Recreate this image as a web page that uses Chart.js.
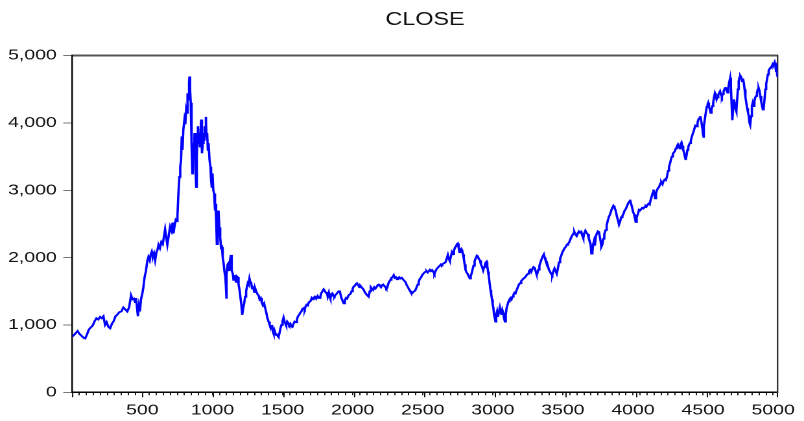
<!DOCTYPE html>
<html>
<head>
<meta charset="utf-8">
<title>CLOSE</title>
<script src="https://cdn.jsdelivr.net/npm/chart.js@4"></script>
<style>
  html, body { margin: 0; padding: 0; background: #fff; }
</style>
</head>
<body>
<!-- drawn narrow, shown wide: the graph is stretched like the exported original -->
<canvas id="chart" width="620" height="421" style="display:block;width:804px;height:421px"></canvas>
<script>
// observation number and closing value, read along the series
const obs = [
  1, 12, 25, 38, 50, 65, 80, 92, 105, 118,
  130, 145, 160, 172, 185, 198, 210, 222, 234, 245,
  258, 270, 283, 296, 308, 320, 335, 350, 364, 378,
  392, 405, 419, 430, 440, 448, 455, 462, 468, 475,
  482, 490, 500, 507, 515, 525, 535, 543, 552, 560,
  567, 575, 583, 591, 600, 608, 615, 625, 635, 645,
  652, 662, 670, 678, 688, 698, 708, 716, 722, 730,
  738, 746, 750, 757, 764, 770, 776, 781, 786, 792,
  800, 806, 812, 818, 822, 828, 833, 836, 840, 845,
  849, 853, 856, 860, 864, 868, 872, 877, 881, 884,
  888, 893, 896, 900, 905, 910, 915, 919, 923, 927,
  931, 936, 940, 944, 948, 953, 957, 962, 967, 972,
  979, 985, 990, 995, 1000, 1006, 1012, 1018, 1022, 1026,
  1031, 1037, 1043, 1049, 1055, 1061, 1067, 1073, 1079, 1085,
  1091, 1095, 1098, 1102, 1108, 1115, 1120, 1125, 1131, 1135,
  1139, 1145, 1150, 1156, 1162, 1168, 1174, 1179, 1186, 1193,
  1200, 1206, 1212, 1219, 1226, 1233, 1240, 1246, 1252, 1258,
  1264, 1270, 1276, 1282, 1290, 1298, 1305, 1312, 1320, 1329,
  1336, 1344, 1352, 1360, 1368, 1376, 1384, 1392, 1400, 1408,
  1414, 1419, 1425, 1431, 1436, 1442, 1448, 1455, 1462, 1467,
  1471, 1478, 1485, 1492, 1500, 1507, 1514, 1520, 1526, 1533,
  1540, 1547, 1555, 1562, 1570, 1578, 1586, 1594, 1602, 1610,
  1618, 1626, 1634, 1642, 1650, 1658, 1665, 1672, 1680, 1688,
  1698, 1708, 1715, 1721, 1730, 1740, 1750, 1760, 1769, 1776,
  1784, 1793, 1800, 1808, 1815, 1822, 1830, 1836, 1841, 1848,
  1855, 1862, 1870, 1878, 1885, 1892, 1900, 1907, 1914, 1920,
  1928, 1936, 1944, 1952, 1960, 1968, 1976, 1984, 1992, 2000,
  2007, 2015, 2023, 2031, 2040, 2048, 2056, 2064, 2072, 2079,
  2088, 2096, 2104, 2114, 2122, 2130, 2138, 2146, 2154, 2162,
  2170, 2178, 2186, 2194, 2202, 2210, 2218, 2226, 2234, 2240,
  2246, 2252, 2260, 2269, 2276, 2284, 2293, 2300, 2308, 2316,
  2324, 2332, 2341, 2350, 2358, 2366, 2376, 2384, 2392, 2400,
  2408, 2416, 2424, 2432, 2440, 2448, 2456, 2464, 2471, 2478,
  2486, 2496, 2504, 2512, 2519, 2527, 2535, 2543, 2551, 2559,
  2567, 2575, 2583, 2591, 2599, 2607, 2614, 2622, 2630, 2638,
  2646, 2654, 2662, 2670, 2679, 2686, 2693, 2700, 2708, 2716,
  2722, 2730, 2738, 2744, 2750, 2756, 2762, 2768, 2775, 2781,
  2787, 2793, 2799, 2805, 2812, 2820, 2828, 2836, 2842, 2848,
  2855, 2862, 2870, 2878, 2886, 2893, 2900, 2908, 2915, 2922,
  2931, 2938, 2944, 2950, 2955, 2960, 2966, 2971, 2977, 2983,
  2988, 2994, 2999, 3004, 3009, 3014, 3019, 3024, 3030, 3036,
  3042, 3050, 3056, 3062, 3068, 3074, 3080, 3086, 3092, 3098,
  3105, 3112, 3119, 3126, 3133, 3140, 3147, 3155, 3162, 3170,
  3178, 3186, 3194, 3202, 3210, 3218, 3226, 3234, 3241, 3250,
  3258, 3266, 3274, 3282, 3290, 3298, 3305, 3311, 3317, 3324,
  3332, 3340, 3348, 3356, 3364, 3370, 3376, 3384, 3392, 3400,
  3408, 3416, 3424, 3432, 3440, 3448, 3456, 3464, 3472, 3480,
  3488, 3496, 3504, 3512, 3520, 3528, 3536, 3543, 3551, 3559,
  3567, 3575, 3582, 3590, 3598, 3606, 3614, 3622, 3631, 3638,
  3645, 3652, 3660, 3668, 3676, 3684, 3690, 3697, 3703, 3710,
  3716, 3722, 3728, 3734, 3742, 3750, 3757, 3764, 3770, 3774,
  3781, 3788, 3795, 3805, 3812, 3820, 3829, 3836, 3845, 3852,
  3860, 3868, 3876, 3884, 3892, 3900, 3908, 3916, 3924, 3932,
  3940, 3948, 3956, 3964, 3972, 3979, 3986, 3993, 4000, 4008,
  4014, 4019, 4026, 4035, 4043, 4050, 4058, 4066, 4074, 4082,
  4090, 4097, 4103, 4110, 4118, 4125, 4132, 4140, 4146, 4152,
  4158, 4164, 4170, 4178, 4186, 4194, 4202, 4210, 4218, 4226,
  4234, 4242, 4250, 4257, 4264, 4270, 4277, 4284, 4291, 4298,
  4305, 4312, 4320, 4328, 4334, 4340, 4346, 4352, 4358, 4364,
  4370, 4376, 4382, 4388, 4394, 4400, 4406, 4412, 4420, 4428,
  4436, 4444, 4452, 4460, 4466, 4472, 4479, 4485, 4490, 4496,
  4500, 4503, 4507, 4512, 4519, 4526, 4532, 4536, 4542, 4548,
  4554, 4560, 4566, 4572, 4578, 4584, 4590, 4596, 4602, 4608,
  4614, 4621, 4628, 4634, 4640, 4646, 4652, 4658, 4662, 4668,
  4674, 4680, 4686, 4693, 4698, 4703, 4707, 4710, 4715, 4720,
  4726, 4732, 4737, 4742, 4748, 4754, 4760, 4766, 4772, 4778,
  4784, 4790, 4796, 4802, 4808, 4814, 4820, 4826, 4831, 4836,
  4842, 4848, 4854, 4860, 4866, 4872, 4878, 4884, 4890, 4896,
  4902, 4908, 4914, 4920, 4926, 4932, 4938, 4944, 4950, 4956,
  4962, 4968, 4974, 4980, 4986, 4992, 4998, 5004, 5010, 5016,
  5020, 5024, 5028, 5032
];

const close = [
  830, 850, 880, 910, 870, 840, 810, 800, 860, 930,
  960, 990, 1060, 1100, 1080, 1120, 1100, 1130, 1000, 1040,
  970, 950, 1020, 1060, 1130, 1150, 1190, 1200, 1260, 1230,
  1200, 1260, 1440, 1380, 1390, 1340, 1400, 1250, 1130, 1280,
  1200, 1380, 1470, 1560, 1700, 1800, 1950, 2010, 1960, 2050,
  2090, 2010, 2060, 1960, 2080, 2120, 2190, 2140, 2230, 2200,
  2290, 2420, 2300, 2190, 2330, 2460, 2400, 2520, 2360, 2480,
  2560, 2540, 2620, 2950, 3200, 3350, 3450, 3800, 3600, 3900,
  4050, 3980, 4200, 4150, 4440, 4350, 4600, 4690, 4500, 4300,
  4050, 3650, 3250, 3500, 3700, 3550, 3850, 3600, 3300, 3050,
  3500, 3800, 3950, 3700, 3850, 3650, 3900, 4050, 3750, 3550,
  3700, 3850, 3750, 3950, 3850, 4090, 3800, 3850, 3600, 3700,
  3450, 3350, 3150, 3050, 3250, 3000, 2950, 2700, 2800, 2560,
  2200, 2500, 2700, 2450, 2300, 2150, 2160, 2000, 1920, 1800,
  1720, 1600, 1390, 1750, 1900, 1920, 1800, 1950, 2040, 1920,
  1810, 1760, 1670, 1740, 1680, 1640, 1720, 1710, 1600, 1520,
  1400, 1300, 1150, 1250, 1320, 1420, 1500, 1570, 1620, 1600,
  1690, 1640, 1620, 1550, 1560, 1490, 1540, 1500, 1460, 1440,
  1380, 1400, 1330, 1290, 1320, 1250, 1180, 1100, 1050, 1000,
  960, 940, 1000, 900, 870, 920, 880, 850, 870, 830,
  820, 880, 950, 1000, 1060, 1110, 1050, 1020, 990, 1050,
  1030, 1000, 1020, 980, 970, 1020, 1050, 1040, 1080, 1130,
  1150, 1180, 1200, 1240, 1250, 1230, 1280, 1300, 1290, 1340,
  1350, 1400, 1380, 1400, 1420, 1390, 1430, 1400, 1420, 1470,
  1500, 1530, 1510, 1480, 1490, 1420, 1480, 1420, 1390, 1460,
  1470, 1430, 1420, 1450, 1460, 1480, 1500, 1510, 1450, 1400,
  1360, 1320, 1360, 1400, 1390, 1430, 1450, 1460, 1500, 1540,
  1570, 1580, 1610, 1620, 1590, 1560, 1580, 1560, 1540, 1520,
  1480, 1460, 1440, 1420, 1500, 1560, 1540, 1520, 1560, 1540,
  1560, 1590, 1600, 1580, 1560, 1590, 1600, 1580, 1560, 1540,
  1550, 1600, 1640, 1670, 1700, 1710, 1740, 1700, 1710, 1680,
  1700, 1710, 1690, 1700, 1680, 1660, 1640, 1600, 1570, 1540,
  1510, 1480, 1470, 1490, 1500, 1520, 1560, 1600, 1640, 1680,
  1700, 1740, 1760, 1780, 1790, 1800, 1780, 1800, 1820, 1800,
  1815, 1790, 1760, 1800, 1830, 1850, 1865, 1880, 1900, 1890,
  1910, 1920, 1930, 1980, 2040, 1980, 1950, 2010, 2080, 2050,
  2100, 2150, 2170, 2200, 2210, 2150, 2080, 2110, 2130, 2110,
  2050, 1980, 1900, 1820, 1780, 1760, 1720, 1690, 1730, 1760,
  1820, 1880, 1950, 1990, 2030, 2020, 1980, 1960, 1900, 1870,
  1810, 1860, 1900, 1930, 1940, 1880, 1790, 1720, 1620, 1520,
  1460, 1380, 1300, 1250, 1150, 1100, 1050, 1150, 1200, 1120,
  1180, 1260, 1200, 1150, 1220, 1180, 1100, 1050, 1150, 1250,
  1300, 1350, 1380, 1400, 1380, 1420, 1450, 1480, 1470, 1520,
  1560, 1600, 1620, 1650, 1670, 1690, 1700, 1720, 1740, 1760,
  1800, 1820, 1790, 1830, 1860, 1850, 1800, 1760, 1760, 1820,
  1880, 1930, 1980, 2020, 2050, 2000, 1960, 1940, 1880, 1820,
  1790, 1760, 1740, 1800, 1840, 1800, 1760, 1840, 1930, 1990,
  2030, 2080, 2110, 2140, 2160, 2190, 2210, 2220, 2260, 2300,
  2330, 2360, 2380, 2340, 2320, 2360, 2390, 2370, 2385, 2330,
  2290, 2360, 2400, 2370, 2350, 2290, 2250, 2210, 2060, 2080,
  2200, 2250, 2180, 2310, 2360, 2390, 2380, 2300, 2230, 2160,
  2190, 2280, 2350, 2410, 2480, 2550, 2610, 2640, 2700, 2740,
  2770, 2740, 2700, 2620, 2560, 2490, 2540, 2600, 2620, 2650,
  2700, 2720, 2760, 2800, 2830, 2860, 2800, 2750, 2680, 2640,
  2580, 2530, 2600, 2650, 2710, 2700, 2720, 2740, 2730, 2750,
  2770, 2760, 2780, 2800, 2790, 2850, 2900, 2960, 3010, 2950,
  2880, 2950, 3000, 3030, 3050, 3100, 3120, 3090, 3140, 3160,
  3150, 3200, 3290, 3350, 3400, 3450, 3500, 3540, 3560, 3580,
  3620, 3650, 3680, 3640, 3620, 3690, 3710, 3660, 3600, 3560,
  3500, 3450, 3520, 3600, 3640, 3680, 3700, 3730, 3800, 3850,
  3900, 3960, 3950, 4000, 4050, 4070, 4100, 4050, 3980, 3900,
  3820, 3780, 3950, 4050, 4150, 4240, 4280, 4300, 4240, 4200,
  4150, 4200, 4250, 4300, 4380, 4440, 4400, 4350, 4380, 4420,
  4440, 4470, 4420, 4390, 4430, 4470, 4500, 4520, 4530, 4480,
  4450, 4520, 4600, 4670, 4550, 4300, 4100, 4040, 4250, 4350,
  4280, 4200, 4170, 4320, 4500, 4620, 4680, 4700, 4680, 4620,
  4660, 4600, 4500, 4380, 4300, 4220, 4160, 4100, 4000, 3970,
  4100, 4250, 4300, 4250, 4320, 4380, 4400, 4450, 4500, 4520,
  4480, 4400, 4320, 4260, 4200, 4220, 4350, 4500, 4580, 4650,
  4720, 4780, 4800, 4820, 4830, 4850, 4880, 4870, 4900, 4840,
  4770, 4880, 4720, 4680
];

const seriesName = 'CLOSE';
const yTicks = [0, 1000, 2000, 3000, 4000, 5000];
const xLabelStep = 500;

const FONT = "'Liberation Sans', Arial, sans-serif";

const points = obs.map((x, i) => ({ x: x, y: close[i] }));

// shared x range of the bottom and top scales
const xMin = 0;
const xMax = 5032;

new Chart(document.getElementById('chart'), {
  type: 'line',
  data: {
    datasets: [{
      label: seriesName,
      data: points,
      xAxisID: 'x',
      yAxisID: 'y',
      borderColor: '#0000ff',
      borderWidth: 1.8,
      pointRadius: 0,
      tension: 0,
      fill: false
    }]
  },
  options: {
    responsive: false,
    animation: false,
    devicePixelRatio: 2,
    layout: { padding: { left: 0, right: 20.3, top: 0, bottom: 0 } },
    plugins: {
      legend: { display: false },
      tooltip: { enabled: false },
      title: {
        display: true,
        text: seriesName,
        fullSize: false,
        color: '#111',
        font: { family: FONT, size: 18, weight: 'normal', lineHeight: 1.2 },
        padding: { top: 9, bottom: 25 }
      }
    },
    scales: {
      // longer tick marks every 500 obs, sitting on the bottom axis line
      xMajor: {
        axis: 'x',
        type: 'linear',
        position: 'bottom',
        weight: 0,
        min: xMin,
        max: xMax,
        ticks: { display: false, stepSize: xLabelStep, includeBounds: false, autoSkip: false },
        grid: { drawOnChartArea: false, drawTicks: true, tickLength: 5, tickColor: '#111', tickWidth: 1 },
        border: { display: false },
        afterFit: (s) => { s.height = 0 }
      },
      x: {
        axis: 'x',
        type: 'linear',
        position: 'bottom',
        weight: 1,
        min: xMin,
        max: xMax,
        ticks: {
          stepSize: 50,
          includeBounds: false,
          autoSkip: false,
          maxRotation: 0,
          padding: 6,
          color: '#111',
          font: { family: FONT, size: 15 },
          callback: (v) => (v > 0 && v % xLabelStep === 0) ? String(v) : ''
        },
        grid: { drawOnChartArea: false, drawTicks: true, tickLength: 3, tickColor: '#222', tickWidth: 1 },
        border: { display: true, color: '#000', width: 1.5 },
        afterFit: (s) => { s.height = 28.7 }
      },
      xTop: {
        axis: 'x',
        type: 'linear',
        position: 'top',
        min: xMin,
        max: xMax,
        ticks: { display: false },
        grid: { drawOnChartArea: false, drawTicks: false },
        border: { display: true, color: '#555', width: 2 },
        afterFit: (s) => { s.height = 0 }
      },
      yRight: {
        axis: 'y',
        type: 'linear',
        position: 'right',
        min: 0,
        max: 5000,
        ticks: { display: false },
        grid: { drawOnChartArea: false, drawTicks: false },
        border: { display: true, color: '#333', width: 1.2 },
        afterFit: (s) => { s.width = 0 }
      },
      y: {
        axis: 'y',
        type: 'linear',
        position: 'left',
        min: 0,
        max: 5000,
        afterBuildTicks: (s) => { s.ticks = yTicks.map(v => ({ value: v })) },
        ticks: {
          padding: 5,
          color: '#111',
          font: { family: FONT, size: 15 },
          callback: (v) => v.toLocaleString('en-US')
        },
        grid: { drawOnChartArea: false, drawTicks: true, tickLength: 7, tickColor: '#777', tickWidth: 1 },
        border: { display: true, color: '#000', width: 1.2 },
        afterFit: (s) => { s.width = 55.75 }
      }
    }
  }
});
</script>
</body>
</html>
